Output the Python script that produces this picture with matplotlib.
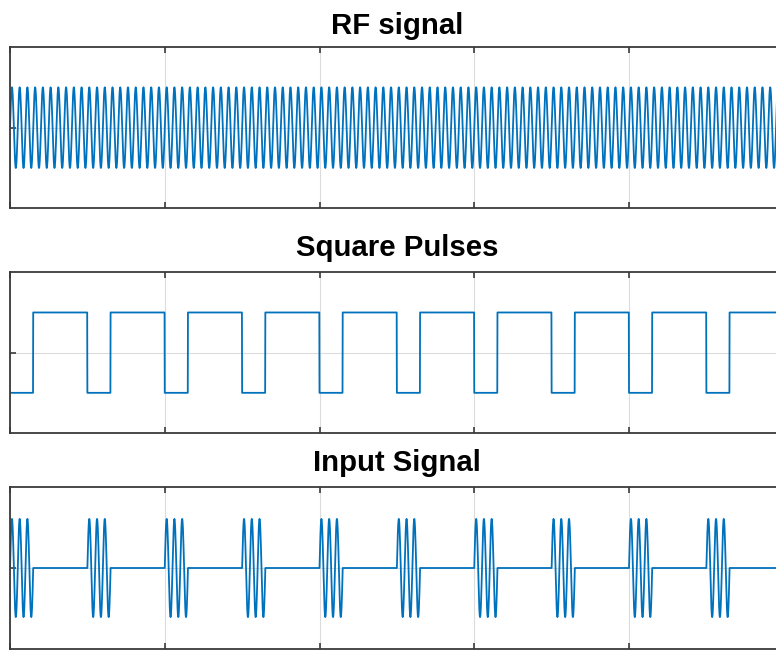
import numpy as np
import matplotlib
matplotlib.use("Agg")
import matplotlib.pyplot as plt

# ---- data (time in axis units, grid at 1 unit) ----
titles = ["RF signal", "Square Pulses", "Input Signal"]
x_ticks = [0, 1, 2, 3, 4, 5]
carrier_cycles_per_unit = 20          # ~20 RF periods between grid lines
carrier_amplitude = 1.0
pulse_high = 1.0
pulse_low = -1.0
# intervals where the square pulse is LOW (and the input burst is on)
low_starts = [0.0, 0.5, 1.0, 1.5, 2.0, 2.5, 3.0, 3.5, 4.0, 4.5, 5.0]
low_ends = [0.15, 0.65, 1.15, 1.65, 2.15, 2.65, 3.15, 3.65, 4.15, 4.65, 5.15]
y_limits = [(-2, 2), (-2, 2), (-1.65, 1.65)]
t_end = 5.0

# ---- build signals ----
t = np.linspace(0, t_end, 4001)
rf = carrier_amplitude * np.sin(2 * np.pi * carrier_cycles_per_unit * t)
low_mask = np.zeros_like(t, dtype=bool)
for s, e in zip(low_starts, low_ends):
    low_mask |= (t >= s) & (t < e)
square = np.where(low_mask, pulse_low, pulse_high)
inp = np.where(low_mask, rf, 0.0)
signals = [rf, square, inp]

W, H = 776, 650
fig = plt.figure(figsize=(W / 100, H / 100), dpi=100)
plt.rcParams['font.family'] = ['Liberation Sans', 'DejaVu Sans']

left_px = 10
unit_px = 154.75
axes_px = [(47, 208.3), (272.3, 433), (487, 649)]
title_pads = [9.6, 11.5, 11.2]
line_color = "#0072BD"
axis_color = "#3a3a3a"

for i, (top, bot) in enumerate(axes_px):
    ax = fig.add_axes([left_px / W, (H - bot) / H, unit_px * t_end / W, (bot - top) / H])
    ax.plot(t, signals[i], color=line_color, lw=1.3)
    ax.set_xlim(0, t_end)
    ax.set_ylim(*y_limits[i])
    ax.set_xticks(x_ticks)
    ax.set_yticks([0])
    ax.set_xticklabels([])
    ax.set_yticklabels([])
    ax.tick_params(direction="in", length=4, width=1.2, color=axis_color,
                   top=True, right=True, bottom=True, left=True)
    ax.grid(True, color="#dcdcdc", lw=0.8)
    ax.set_axisbelow(True)
    for sp in ax.spines.values():
        sp.set_color(axis_color)
        sp.set_linewidth(1.3)
    ax.set_title(titles[i], fontsize=21.2, fontweight="bold", pad=title_pads[i],
                 color="black")

fig.savefig("out.png", dpi=100)
